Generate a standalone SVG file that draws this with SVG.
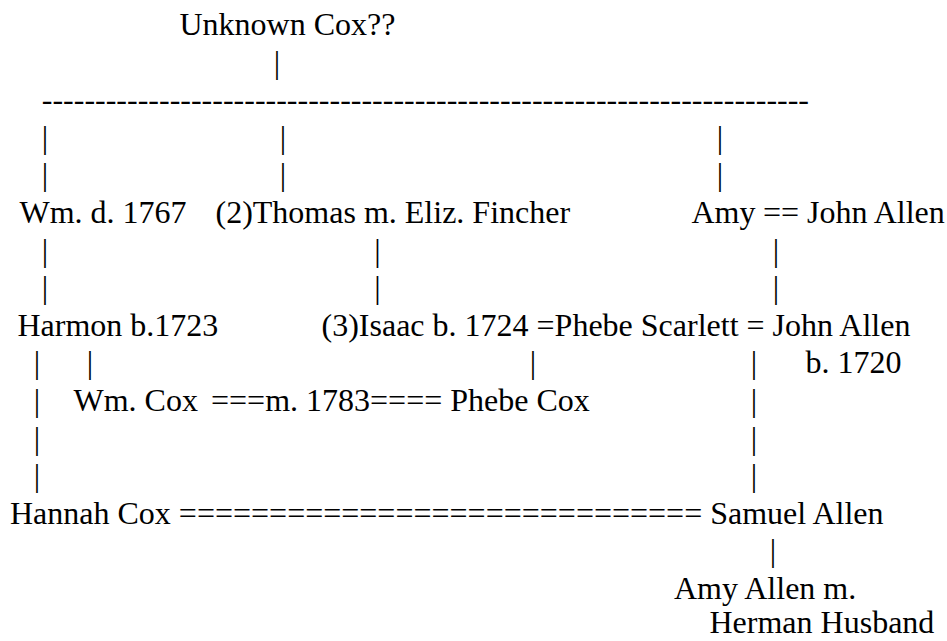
<svg xmlns="http://www.w3.org/2000/svg" width="947" height="641" viewBox="0 0 947 641">
<style>
text{font-family:"Liberation Serif","Times New Roman",serif;font-size:32px;fill:#000;white-space:pre}
.p{text-anchor:middle}
</style>
<rect width="947" height="641" fill="#fff"/>
<g id="connectors">
<text class="p" x="277" y="72.6">|</text>
<text x="41.75" y="110.2">------------------------------------------------------------------------</text>
<text class="p" x="45" y="147.8">|</text><text class="p" x="283" y="147.8">|</text><text class="p" x="720" y="147.8">|</text>
<text class="p" x="45" y="185.4">|</text><text class="p" x="283" y="185.4">|</text><text class="p" x="720" y="185.4">|</text>
<text x="763" y="223">==</text>
<text class="p" x="45" y="260.6">|</text><text class="p" x="377.5" y="260.6">|</text><text class="p" x="776" y="260.6">|</text>
<text class="p" x="45" y="298.2">|</text><text class="p" x="377.5" y="298.2">|</text><text class="p" x="776" y="298.2">|</text>
<text x="536.5" y="335.8">=</text>
<text x="746.6" y="335.8">=</text>
<text class="p" x="37" y="373.4">|</text><text class="p" x="90" y="373.4">|</text><text class="p" x="533" y="373.4">|</text><text class="p" x="754" y="373.4">|</text>
<text class="p" x="37" y="411">|</text><text class="p" x="754" y="411">|</text>
<text x="211" y="411">===m. 1783====</text>
<text class="p" x="37" y="448.6">|</text><text class="p" x="754" y="448.6">|</text>
<text class="p" x="37" y="486.2">|</text><text class="p" x="754" y="486.2">|</text>
<text x="178.85" y="523.8">=============================</text>
<text class="p" x="773" y="561.4">|</text>
</g>
<g id="unknown-cox"><text x="179.5" y="35">Unknown Cox??</text></g>
<g id="wm-d-1767"><text x="19.5" y="223">Wm. d. 1767</text></g>
<g id="thomas"><text x="215.5" y="223">(2)Thomas m. Eliz. Fincher</text></g>
<g id="amy"><text x="691.5" y="223">Amy</text></g>
<g id="john-allen-sr"><text x="807" y="223">John Allen</text></g>
<g id="harmon"><text x="17.5" y="335.8">Harmon b.1723</text></g>
<g id="isaac"><text x="321.5" y="335.8">(3)Isaac b. 1724</text></g>
<g id="phebe-scarlett"><text x="554.6" y="335.8">Phebe Scarlett</text></g>
<g id="john-allen-jr"><text x="772.6" y="335.8">John Allen</text><text x="805.5" y="373.4">b. 1720</text></g>
<g id="wm-cox"><text x="73.5" y="411">Wm. Cox</text></g>
<g id="phebe-cox"><text x="450.2" y="411">Phebe Cox</text></g>
<g id="hannah-cox"><text x="10" y="523.8">Hannah Cox</text></g>
<g id="samuel-allen"><text x="710.2" y="523.8">Samuel Allen</text></g>
<g id="amy-allen"><text x="674" y="599">Amy Allen m.</text><text x="709.5" y="633">Herman Husband</text></g>
</svg>
